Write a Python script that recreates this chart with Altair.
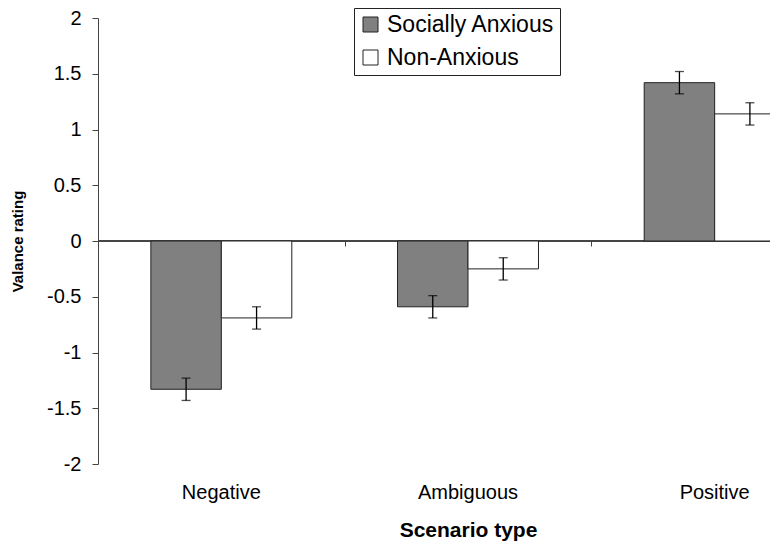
import altair as alt
import pandas as pd

scenarios = ["Negative", "Ambiguous", "Positive"]
groups = ["Socially Anxious", "Non-Anxious"]
anxious_means = [-1.33, -0.59, 1.42]
anxious_se = [0.10, 0.10, 0.10]
nonanxious_means = [-0.69, -0.25, 1.14]
nonanxious_se = [0.10, 0.10, 0.10]
y_ticks = [-2, -1.5, -1, -0.5, 0, 0.5, 1, 1.5, 2]

rows = []
for i, s in enumerate(scenarios):
    rows.append({"scenario": s, "group": groups[0], "mean": anxious_means[i], "se": anxious_se[i]})
    rows.append({"scenario": s, "group": groups[1], "mean": nonanxious_means[i], "se": nonanxious_se[i]})
df = pd.DataFrame(rows)
df["lo"] = df["mean"] - df["se"]
df["hi"] = df["mean"] + df["se"]

FONT = "Liberation Sans"
AX = "#444444"
W, H = 672, 446
X_RANGE = [0, 740]

x_scale = alt.Scale(paddingInner=0, paddingOuter=0, range=X_RANGE)

x_bars = alt.X(
    "scenario:N", sort=scenarios, scale=x_scale,
    axis=alt.Axis(orient="bottom", domain=False, ticks=False, tickSize=0,
                  labelFontSize=20, labelPadding=18, labelAngle=0, labelColor="black",
                  title="Scenario type", titleFontSize=21, titleFontWeight="bold",
                  titleColor="black", titleX=370, titleY=66, titleBaseline="middle"),
)
x_err = alt.X(
    "scenario:N", sort=scenarios, scale=x_scale,
    axis=alt.Axis(orient="bottom", offset=-H / 2, domain=False, labels=False,
                  ticks=True, tickBand="extent", tickSize=5, tickColor=AX, title=None),
)
x_plain = alt.X("scenario:N", sort=scenarios, scale=x_scale, axis=None)
x_off = alt.XOffset("group:N", sort=groups,
                    scale=alt.Scale(paddingInner=0, paddingOuter=0.75))

y_enc = alt.Y(
    "mean:Q",
    scale=alt.Scale(domain=[-2, 2], nice=False, zero=False),
    axis=alt.Axis(values=y_ticks, labelExpr="'' + datum.value", grid=False,
                  domainColor=AX, tickColor=AX, tickSize=6, labelPadding=11,
                  labelFontSize=20, labelColor="black",
                  title="Valance rating", titleFontSize=15, titleFontWeight="bold",
                  titleColor="black", titleX=-81, titleY=H / 2, titleAngle=-90,
                  titleAlign="center", titleBaseline="middle"),
)

zero = alt.Chart(df).mark_rule(color=AX, strokeWidth=1).encode(y=alt.datum(0))

bars = alt.Chart(df).mark_bar(stroke="#222222", strokeWidth=1, clip=True).encode(
    x=x_bars,
    xOffset=x_off,
    y=y_enc,
    color=alt.Color(
        "group:N", sort=groups,
        scale=alt.Scale(domain=groups, range=["#808080", "#ffffff"]),
        legend=alt.Legend(orient="none", legendX=256, legendY=-10, title=None,
                          symbolType="square", symbolSize=225,
                          symbolStrokeColor="#222222", symbolStrokeWidth=1,
                          labelFontSize=23, labelColor="black", labelOffset=5,
                          labelLimit=400, padding=5, rowPadding=9,
                          strokeColor="#222222", fillColor="white"),
    ),
)

err_rule = alt.Chart(df).mark_rule(color="black", strokeWidth=1.3, clip=True).encode(
    x=x_err, xOffset=x_off, y="lo:Q", y2="hi:Q"
)
cap_lo = alt.Chart(df).mark_tick(color="black", size=9, thickness=1.3, clip=True).encode(
    x=x_plain, xOffset=x_off, y="lo:Q"
)
cap_hi = alt.Chart(df).mark_tick(color="black", size=9, thickness=1.3, clip=True).encode(
    x=x_plain, xOffset=x_off, y="hi:Q"
)

chart = (
    alt.layer(zero, bars, err_rule, cap_lo, cap_hi)
    .resolve_axis(x="independent")
    .properties(
        width=W, height=H,
        autosize=alt.AutoSizeParams(type="none"),
        padding={"left": 90, "top": 10, "right": 0, "bottom": 82},
    )
    .configure(font=FONT)
    .configure_view(stroke=None)
)

chart.save("out.html", embed_options={"renderer": "svg", "actions": False})
